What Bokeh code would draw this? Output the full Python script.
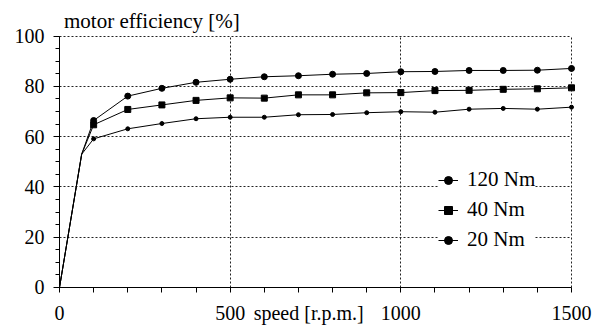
from bokeh.plotting import figure
from bokeh.models import Range1d, Legend, LegendItem, FixedTicker, Label
from bokeh.embed import file_html
from bokeh.resources import INLINE

# ---- data ----
speed = [0, 65, 100, 200, 300, 400, 500, 600, 700, 800, 900, 1000, 1100, 1200, 1300, 1400, 1500]
eff_120 = [0, 53, 66.4, 76.1, 79.2, 81.6, 82.8, 83.8, 84.2, 84.8, 85.1, 85.8, 85.9, 86.3, 86.3, 86.4, 87.1]
eff_40 = [0, 53, 64.7, 70.8, 72.6, 74.4, 75.4, 75.3, 76.6, 76.6, 77.4, 77.5, 78.3, 78.4, 78.8, 79.0, 79.4]
eff_20 = [0, 53, 59.1, 63.1, 65.2, 67.1, 67.7, 67.7, 68.7, 68.8, 69.5, 69.9, 69.7, 70.9, 71.2, 70.9, 71.7]
series_labels = ["120 Nm", "40 Nm", "20 Nm"]
x_ticks = [0, 500, 1000, 1500]
y_ticks = [0, 20, 40, 60, 80, 100]
title_text = "motor efficiency [%]"
xlabel_text = "speed [r.p.m.]"
xlabel_pos = 730  # x-axis title sits among the tick labels

FONT = "Liberation Serif"

# the frame covers the whole canvas; both axes are pinned at 0 and bounded
p = figure(width=603, height=326, output_backend="svg", toolbar_location=None,
           x_range=Range1d(-172.85, 1593.75), y_range=Range1d(-15.51, 114.12),
           min_border=0)
p.outline_line_color = None
p.background_fill_color = "white"
p.border_fill_color = "white"

for ax in (p.xaxis[0], p.yaxis[0]):
    ax.axis_line_color = "black"
    ax.axis_line_width = 1
    ax.major_tick_line_color = "black"
    ax.minor_tick_line_color = "black"
    ax.major_tick_in = 0
    ax.minor_tick_in = 0
    ax.major_label_text_font = FONT
    ax.major_label_text_font_size = "20px"
    ax.major_label_text_color = "black"

xa = p.xaxis[0]
xa.fixed_location = 0
xa.bounds = (0, 1500)
xa.ticker = FixedTicker(ticks=x_ticks + [xlabel_pos], minor_ticks=list(range(0, 1501, 100)))
xa.major_label_overrides = {xlabel_pos: xlabel_text}
xa.major_tick_out = 5
xa.major_tick_line_color = None
xa.minor_tick_out = 5
xa.major_label_standoff = 10

ya = p.yaxis[0]
ya.fixed_location = 0
ya.bounds = (0, 100)
ya.ticker = FixedTicker(ticks=y_ticks, minor_ticks=list(range(0, 101, 5)))
ya.major_tick_out = 6
ya.minor_tick_out = 4
ya.major_label_standoff = 9

for g in (p.xgrid[0], p.ygrid[0]):
    g.grid_line_color = "#222222"
    g.grid_line_dash = "2 2"
    g.grid_line_width = 1
p.xgrid[0].ticker = FixedTicker(ticks=x_ticks)
p.ygrid[0].ticker = FixedTicker(ticks=y_ticks)
p.xgrid[0].cross_bounds = (0, 100)
p.ygrid[0].cross_bounds = (0, 1500)

items = []
specs = [(eff_120, "circle", 6), (eff_40, "square", 6), (eff_20, "circle", 4)]
for (ys, marker, size), lab in zip(specs, series_labels):
    l = p.line(speed, ys, line_color="black", line_width=1)
    s = p.scatter(speed[2:], ys[2:], marker=marker, size=size,
                  fill_color="black", line_color="black")
    items.append(LegendItem(label=lab, renderers=[l, s]))

legend = Legend(items=items, location=(438, 74), padding=28, spacing=5,
                glyph_width=20, glyph_height=20, label_height=20, label_standoff=9,
                label_text_font=FONT, label_text_font_size="21px", label_text_color="black",
                border_line_color=None, background_fill_color="white",
                background_fill_alpha=1.0, margin=0)
p.add_layout(legend, "center")

p.add_layout(Label(x=13.2, y=106.0, text=title_text, text_font=FONT,
                   text_font_size="21px", text_color="black",
                   text_align="left", text_baseline="alphabetic"))

open("out.html", "w").write(file_html(p, INLINE))
